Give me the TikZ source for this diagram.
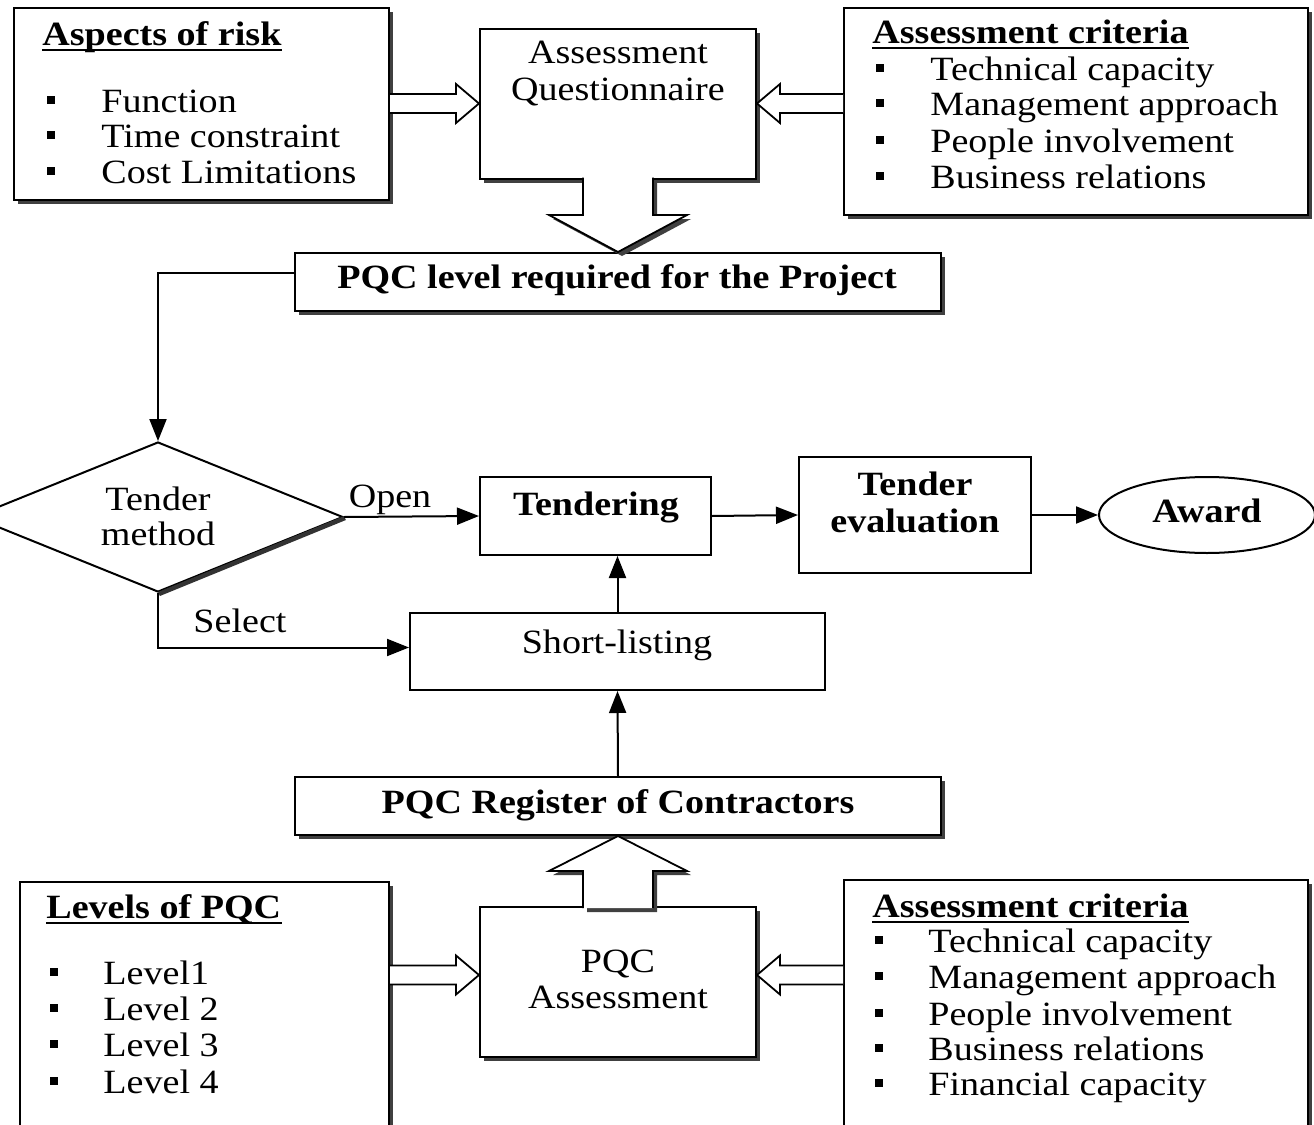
\documentclass[tikz,border=0pt]{standalone}
\usepackage{fontspec}
\setmainfont{Liberation Serif}[FakeStretch=1.12]
\usetikzlibrary{shapes.geometric,arrows.meta,calc,shadows}
\begin{document}
\begin{tikzpicture}[x=0.5pt,y=-0.5pt,
  every node/.style={font=\fontsize{17}{20}\selectfont},
  box/.style={draw, line width=1pt, fill=white, inner sep=0pt, rectangle},
  shd/.style={drop shadow={shadow xshift=2pt, shadow yshift=-2pt, fill=black!75, opacity=1}},
  txt/.style={inner sep=0pt, anchor=base},
  ltxt/.style={inner sep=0pt, anchor=base west},
  bold/.style={font=\fontsize{17}{20}\selectfont\bfseries},
  bul/.style={fill=black, inner sep=0pt, minimum size=4pt, rectangle},
  uline/.style={line width=0.8pt},
  conn/.style={line width=1pt, -{Triangle[length=11pt,width=8.5pt]}},
  fat/.style n args={3}{draw, line width=0.9pt, fill=white, line join=miter,
    to path={
      ($(\tikztostart)!#1!90:(\tikztotarget)$)
      -- ($(\tikztotarget)!#3!(\tikztostart)!#1!90:(\tikztotarget)$)
      -- ($(\tikztotarget)!#3!(\tikztostart)!#2!90:(\tikztotarget)$)
      -- (\tikztotarget)
      -- ($(\tikztotarget)!#3!(\tikztostart)!#2!-90:(\tikztotarget)$)
      -- ($(\tikztotarget)!#3!(\tikztostart)!#1!-90:(\tikztotarget)$)
      -- ($(\tikztostart)!#1!-90:(\tikztotarget)$)
    }},
]
\useasboundingbox (0,0) rectangle (1314,1125);
\clip (0,0) rectangle (1314,1125);

% ---------- boxes ----------
\node[box,shd,minimum width=187.5pt,minimum height=96pt] (risk) at (201.5,103.5) {};
\node[box,shd,minimum width=138pt,minimum height=75pt] (aq) at (618,103.5) {};
\node[box,shd,minimum width=232pt,minimum height=103.5pt] (crit1) at (1076,111.5) {};
\node[box,shd,minimum width=323pt,minimum height=29pt] (pqc) at (618,282) {};
\node[diamond,draw,line width=1pt,fill=white,minimum width=185pt,minimum height=75pt,inner sep=0pt] (tm) at (158,517) {};
\node[box,minimum width=115.5pt,minimum height=39pt] (tend) at (595.5,516) {};
\node[box,minimum width=116pt,minimum height=58pt] (teval) at (915,515) {};
\node[ellipse,draw,line width=1pt,fill=white,minimum width=108pt,minimum height=38pt,inner sep=0pt] (award) at (1207,515) {};
\node[box,minimum width=207.5pt,minimum height=38.5pt] (short) at (617.5,651.5) {};
\node[box,shd,minimum width=323pt,minimum height=29pt] (reg) at (618,806) {};
\node[box,shd,minimum width=138pt,minimum height=75pt] (pqa) at (618,982) {};
\node[box,shd,minimum width=184.5pt,minimum height=130pt] (levels) at (204.5,1012) {};
\node[box,shd,minimum width=232pt,minimum height=131pt] (crit2) at (1076,1011) {};

% diamond shadow edge
\draw[line width=2.2pt, black!80, line cap=butt] ([shift={(0.5pt,-0.5pt)}]tm.south) -- ([shift={(0.5pt,-0.5pt)}]tm.east);

% ---------- texts ----------
\node[ltxt,bold] (rt) at (42,45) {Aspects of risk};
\draw[uline] ([yshift=-2.5pt]rt.base west) -- ([yshift=-2.5pt]rt.base east);
\node[bul] (rb1) at (51,100) {};
\node[bul] (rb2) at (51,135) {};
\node[bul] (rb3) at (51,171) {};
\node[ltxt] (ri1) at (101,112) {Function};
\node[ltxt] (ri2) at (101,147) {Time constraint};
\node[ltxt] (ri3) at (101,183) {Cost Limitations};

\node[txt] (aqt1) at (618,63) {Assessment};
\node[txt] (aqt2) at (618,100) {Questionnaire};

\node[ltxt,bold] (c1t) at (872,43) {Assessment criteria};
\draw[uline] ([yshift=-2.5pt]c1t.base west) -- ([yshift=-2.5pt]c1t.base east);
\node[bul] (c1b1) at (880,68) {};
\node[bul] (c1b2) at (880,103) {};
\node[bul] (c1b3) at (880,140) {};
\node[bul] (c1b4) at (880,176) {};
\node[ltxt] (c1i1) at (930,80) {Technical capacity};
\node[ltxt] (c1i2) at (930,115) {Management approach};
\node[ltxt] (c1i3) at (930,152) {People involvement};
\node[ltxt] (c1i4) at (930,188) {Business relations};

\node[txt,bold] (pqct) at (617,288) {PQC level required for the Project};

\node[txt] (tmt1) at (158,510) {Tender};
\node[txt] (tmt2) at (158,545) {method};
\node[txt] (open) at (390,507) {Open};
\node[txt,bold] (tendt) at (596,515) {Tendering};
\node[txt,bold] (tevt1) at (915,495) {Tender};
\node[txt,bold] (tevt2) at (915,532) {evaluation};
\node[txt,bold] (awt) at (1207,522) {Award};
\node[txt] (sel) at (240,632) {Select};
\node[txt] (sht) at (617,653) {Short-listing};

\node[txt,bold] (regt) at (618,813) {PQC Register of Contractors};
\node[txt] (pqat1) at (618,972) {PQC};
\node[txt] (pqat2) at (618,1008) {Assessment};

\node[ltxt,bold] (lt) at (46,918) {Levels of PQC};
\draw[uline] ([yshift=-2.5pt]lt.base west) -- ([yshift=-2.5pt]lt.base east);
\node[bul] (lb1) at (54,972) {};
\node[bul] (lb2) at (54,1008) {};
\node[bul] (lb3) at (54,1044) {};
\node[bul] (lb4) at (54,1081) {};
\node[ltxt] (li1) at (103,984) {Level1};
\node[ltxt] (li2) at (103,1020) {Level 2};
\node[ltxt] (li3) at (103,1056) {Level 3};
\node[ltxt] (li4) at (103,1093) {Level 4};

\node[ltxt,bold] (c2t) at (872,917) {Assessment criteria};
\draw[uline] ([yshift=-2.5pt]c2t.base west) -- ([yshift=-2.5pt]c2t.base east);
\node[bul] (c2b1) at (879,940) {};
\node[bul] (c2b2) at (879,976) {};
\node[bul] (c2b3) at (879,1013) {};
\node[bul] (c2b4) at (879,1048) {};
\node[bul] (c2b5) at (879,1083) {};
\node[ltxt] (c2i1) at (928,952) {Technical capacity};
\node[ltxt] (c2i2) at (928,988) {Management approach};
\node[ltxt] (c2i3) at (928,1025) {People involvement};
\node[ltxt] (c2i4) at (928,1060) {Business relations};
\node[ltxt] (c2i5) at (928,1095) {Financial capacity};

% ---------- hollow arrows ----------
\coordinate (c1s) at (crit1.west |- aq.east);
\coordinate (l1) at ([yshift=3.5pt]pqa.west);
\coordinate (l0) at (levels.east |- l1);
\coordinate (r1) at ([yshift=3.5pt]pqa.east);
\coordinate (r0) at (crit2.west |- r1);
\coordinate (aqo) at ([yshift=1pt]aq.south);
\coordinate (pqao) at ([yshift=-1pt]pqa.north);

\draw[fat={4.75pt}{9.75pt}{11.5pt}] (risk.east) to (aq.west);
\draw[fat={4.75pt}{9.75pt}{11.5pt}] (c1s) to (aq.east);
\draw[fat={4.75pt}{9.75pt}{11.5pt}] (l0) to (l1);
\draw[fat={4.75pt}{9.75pt}{11.5pt}] (r0) to (r1);
\draw[fat={17.5pt}{34.5pt}{18.5pt},shd] (aqo) to (pqc.north);
\draw[fat={17.5pt}{34.5pt}{17.5pt},shd] (pqao) to (reg.south);

% ---------- connectors ----------
\draw[conn] ([yshift=4.5pt]pqc.west) -| (tm.north);
\draw[conn] (tm.east) -- (tend.west);
\draw[conn] (tend.east) -- (teval.west);
\draw[conn] (teval.east) -- (award.west);
\draw[conn] (short.north) -- (short.north |- tend.south);
\draw[conn] (reg.north) -- (short.south);
\draw[conn] (tm.south) |- ([yshift=2pt]short.west);
\end{tikzpicture}
\end{document}
